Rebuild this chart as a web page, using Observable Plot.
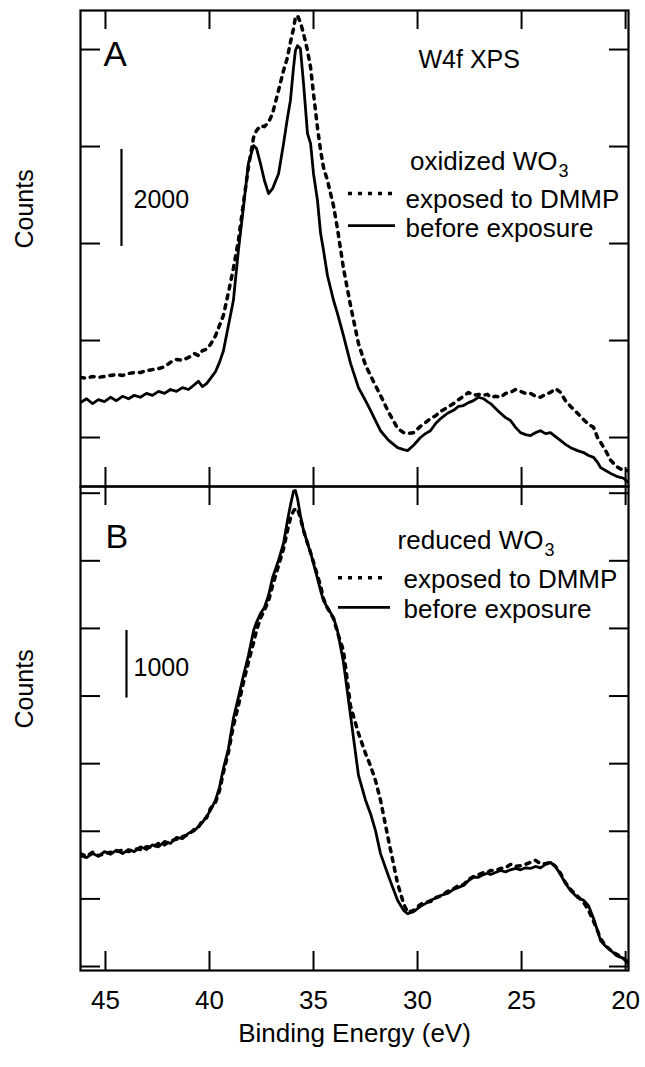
<!DOCTYPE html>
<html><head><meta charset="utf-8">
<script src="https://cdn.jsdelivr.net/npm/d3@7"></script>
<script src="https://cdn.jsdelivr.net/npm/@observablehq/plot@0.6"></script>
<style>
html,body{margin:0;padding:0;background:#fff;}
#chart svg{display:block;}
</style></head><body><div id="chart"></div>
<script>
// Binding energy grid (eV), shared by all four curves
const energy = [
46.20,45.91,45.62,45.34,45.05,44.76,44.47,44.18,43.89,43.61,
43.32,43.03,42.74,42.45,42.16,41.88,41.59,41.30,41.01,40.72,
40.53,40.34,40.14,39.95,39.71,39.52,39.33,39.09,38.85,38.61,
38.37,38.13,37.88,37.74,37.55,37.36,37.16,36.97,36.68,36.44,
36.25,36.11,35.96,35.87,35.77,35.63,35.48,35.29,35.14,35.00,
34.81,34.66,34.52,34.33,34.04,33.85,33.56,33.22,32.84,32.50,
32.26,32.02,31.78,31.39,30.96,30.67,30.48,30.19,29.86,29.62,
29.38,29.13,28.89,28.56,28.27,28.03,27.79,27.55,27.31,27.07,
26.83,26.64,26.49,26.25,26.01,25.77,25.53,25.29,25.05,24.81,
24.57,24.33,24.09,23.85,23.61,23.37,23.13,22.89,22.64,22.31,
22.02,21.78,21.54,21.35,21.20,20.96,20.72,20.43,20.10,19.86];

// Panel A: oxidized WO3
const oxidizedBefore = [
4720,4800,4700,4780,4740,4830,4760,4850,4800,4870,
4830,4910,4870,4950,4910,4990,4950,5030,4990,5090,
5160,5050,5110,5220,5360,5550,5790,6310,6830,7860,
8740,9650,10020,9960,9650,9300,9030,9130,9440,10060,
10600,10950,11630,11980,12080,12020,11300,10270,10060,9440,
8890,8210,7860,7340,6830,6560,6100,5530,5030,4760,
4560,4350,4140,3940,3790,3750,3730,3840,4000,4080,
4140,4290,4390,4500,4560,4640,4660,4720,4760,4830,
4800,4740,4700,4600,4500,4410,4350,4210,4100,4060,
4040,4100,4140,4080,4100,4020,3940,3860,3790,3730,
3690,3630,3590,3490,3380,3320,3260,3200,3160,3070];
const oxidizedExposed = [
5240,5220,5260,5240,5260,5280,5300,5280,5320,5340,
5340,5380,5400,5420,5460,5550,5610,5590,5650,5730,
5690,5790,5820,5920,6100,6310,6520,6990,7490,8060,
8830,9570,10190,10330,10430,10410,10500,10680,11160,11570,
11840,12150,12430,12660,12700,12560,12330,11980,11630,11090,
10390,9920,9570,9300,8780,8310,7490,6720,5940,5490,
5280,5070,4870,4520,4190,4100,4080,4100,4230,4310,
4390,4450,4540,4620,4700,4780,4850,4930,4870,4890,
4870,4890,4830,4850,4830,4910,4930,4990,4950,4910,
4910,4850,4830,4890,4930,5010,4930,4760,4640,4500,
4370,4270,4210,4000,3900,3730,3530,3400,3320,3320];

// Panel B: reduced WO3
const reducedBefore = [
3640,3610,3670,3630,3700,3660,3720,3670,3730,3700,
3770,3730,3800,3770,3850,3820,3910,3890,3970,4010,
4070,4130,4220,4310,4460,4650,4930,5220,5670,5980,
6300,6600,6970,7090,7220,7310,7490,7750,8010,8260,
8600,8820,9030,9040,8920,8670,8450,8260,8120,7960,
7740,7560,7410,7310,7160,6970,6500,5710,4830,4460,
4260,4010,3670,3330,2980,2830,2780,2810,2890,2930,
2980,3010,3050,3080,3140,3170,3200,3270,3320,3320,
3360,3380,3360,3390,3420,3400,3430,3450,3430,3460,
3450,3480,3460,3510,3540,3480,3360,3230,3120,3020,
2980,2900,2710,2530,2380,2300,2240,2160,2120,2030];
const reducedExposed = [
3670,3630,3690,3640,3670,3690,3700,3720,3700,3740,
3730,3770,3760,3820,3800,3860,3880,3920,3950,4030,
4060,4160,4200,4340,4430,4600,4870,5170,5560,5860,
6200,6500,6790,6970,7150,7270,7410,7630,7930,8180,
8450,8630,8740,8770,8770,8630,8450,8260,8120,7980,
7780,7630,7440,7300,7150,6940,6670,5850,5450,5150,
4970,4750,4460,3860,3230,2930,2800,2830,2920,2950,
2960,3020,3040,3110,3150,3200,3210,3290,3330,3360,
3390,3390,3420,3420,3450,3460,3510,3480,3490,3510,
3540,3570,3520,3520,3540,3480,3380,3240,3140,3040,
2950,2830,2670,2530,2410,2310,2240,2180,2120,2060];

const xTicks = [45, 40, 35, 30, 25, 20];
const xDomain = [46.2, 19.86];
const yTicksA = [4000, 6000, 8000, 10000, 12000];
const yTicksB = [2000, 3000, 4000, 5000, 6000, 7000, 8000, 9000];
const yDomainA = [2990, 12805];
const yDomainB = [1941, 9099];

// scale bars
const scaleBarA = [{x: 44.23, y1: 7940, y2: 9940, label: "2000", lx: 43.65, ly: 8900}];
const scaleBarB = [{x: 43.99, y1: 5970, y2: 6970, label: "1000", lx: 43.65, ly: 6420}];

// legend samples
const legendA = [{label: "exposed to DMMP", y: 9030, x1: 33.32, x2: 31.06},
                 {label: "before exposure", y: 8370, x1: 33.32, x2: 31.06}];
const legendB = [{label: "exposed to DMMP", y: 7750, x1: 33.80, x2: 31.55},
                 {label: "before exposure", y: 7310, x1: 33.80, x2: 31.30}];

const DOT = "4,6";
const DOTW = 3.5;
const SOLW = 2.8;
const FONT = "'Liberation Sans', Arial, Helvetica, sans-serif";
const W = 645, ML = 80, MR = 17;
const innerW = W - ML - MR;

const rows = (arr) => energy.map((e, i) => ({e, c: arr[i]}));

function commonMarks(innerH, yTicks) {
  return [
    Plot.tickX(xTicks, {x: d => d, insetTop: innerH - 19, strokeWidth: 2}),
    Plot.tickX(xTicks, {x: d => d, insetBottom: innerH - 19, strokeWidth: 2}),
    Plot.tickY(yTicks, {y: d => d, insetRight: innerW - 20, strokeWidth: 2}),
    Plot.tickY(yTicks, {y: d => d, insetLeft: innerW - 19, strokeWidth: 2}),
    Plot.frame({stroke: "black", strokeWidth: 2.2}),
    Plot.text(["Counts"], {frameAnchor: "left", rotate: -90, dx: -56, lineAnchor: "middle", fontSize: 25})
  ];
}

function curveMarks(before, exposed) {
  return [
    Plot.line(rows(exposed), {x: "e", y: "c", stroke: "black", strokeWidth: DOTW, strokeDasharray: DOT, clip: true}),
    Plot.line(rows(before), {x: "e", y: "c", stroke: "black", strokeWidth: SOLW, strokeLinejoin: "round", clip: true})
  ];
}

function legendMarks(items) {
  return [
    Plot.ruleY([items[0]], {y: "y", x1: "x1", x2: "x2", stroke: "black", strokeWidth: DOTW, strokeDasharray: DOT}),
    Plot.ruleY([items[1]], {y: "y", x1: "x1", x2: "x2", stroke: "black", strokeWidth: SOLW})
  ];
}

function scaleBarMarks(bar) {
  return [
    Plot.ruleX(bar, {x: "x", y1: "y1", y2: "y2", stroke: "black", strokeWidth: 2.2}),
    Plot.text(bar, {x: "lx", y: "ly", text: "label", textAnchor: "start", lineAnchor: "middle", fontSize: 25})
  ];
}

const style = {fontFamily: FONT, fontSize: "26px", color: "black", background: "white", overflow: "visible"};

// Panel A
const hA = 486, mtA = 10, mbA = 0;
const innerHA = hA - mtA - mbA;
const plotA = Plot.plot({
  width: W, height: hA, marginTop: mtA, marginBottom: mbA, marginLeft: ML, marginRight: MR,
  style,
  x: {domain: xDomain, axis: null},
  y: {domain: yDomainA, axis: null},
  marks: [
    ...commonMarks(innerHA, yTicksA),
    ...curveMarks(oxidizedBefore, oxidizedExposed),
    ...scaleBarMarks(scaleBarA),
    ...legendMarks(legendA),
    Plot.text(["A"], {frameAnchor: "top-left", dx: 23, dy: 55, lineAnchor: "bottom", fontSize: 35}),
    Plot.text(["W4f XPS"], {frameAnchor: "top-left", dx: 338, dy: 57, lineAnchor: "bottom", textAnchor: "start", fontSize: 25}),
    Plot.text(["oxidized WO"], {frameAnchor: "top-left", dx: 477, dy: 159, lineAnchor: "bottom", textAnchor: "end", fontSize: 26}),
    Plot.text(["3"], {frameAnchor: "top-left", dx: 478, dy: 166, lineAnchor: "bottom", textAnchor: "start", fontSize: 18}),
    Plot.text([legendA[0].label], {frameAnchor: "top-left", dx: 325, dy: 197, lineAnchor: "bottom", textAnchor: "start", fontSize: 26}),
    Plot.text([legendA[1].label], {frameAnchor: "top-left", dx: 325, dy: 226, lineAnchor: "bottom", textAnchor: "start", fontSize: 26})
  ]
});

// Panel B
const hB = 581, mtB = 0, mbB = 97;
const innerHB = hB - mtB - mbB;
const plotB = Plot.plot({
  width: W, height: hB, marginTop: mtB, marginBottom: mbB, marginLeft: ML, marginRight: MR,
  style,
  x: {domain: xDomain, axis: null},
  y: {domain: yDomainB, axis: null},
  marks: [
    ...commonMarks(innerHB, yTicksB),
    ...curveMarks(reducedBefore, reducedExposed),
    ...scaleBarMarks(scaleBarB),
    ...legendMarks(legendB),
    Plot.text(["B"], {frameAnchor: "top-left", dx: 25, dy: 61, lineAnchor: "bottom", fontSize: 34}),
    Plot.text(["reduced WO"], {frameAnchor: "top-left", dx: 463, dy: 62, lineAnchor: "bottom", textAnchor: "end", fontSize: 26}),
    Plot.text(["3"], {frameAnchor: "top-left", dx: 464, dy: 69, lineAnchor: "bottom", textAnchor: "start", fontSize: 18}),
    Plot.text([legendB[0].label], {frameAnchor: "top-left", dx: 323, dy: 101, lineAnchor: "bottom", textAnchor: "start", fontSize: 26}),
    Plot.text([legendB[1].label], {frameAnchor: "top-left", dx: 323, dy: 131, lineAnchor: "bottom", textAnchor: "start", fontSize: 26}),
    Plot.text(xTicks, {x: d => d, text: d => String(d), frameAnchor: "bottom", dy: 20, lineAnchor: "top", fontSize: 26}),
    Plot.text(["Binding Energy (eV)"], {frameAnchor: "bottom", dy: 63, lineAnchor: "middle", fontSize: 26})
  ]
});

const chart = document.getElementById("chart");
chart.appendChild(plotA);
chart.appendChild(plotB);
</script>
</body></html>
